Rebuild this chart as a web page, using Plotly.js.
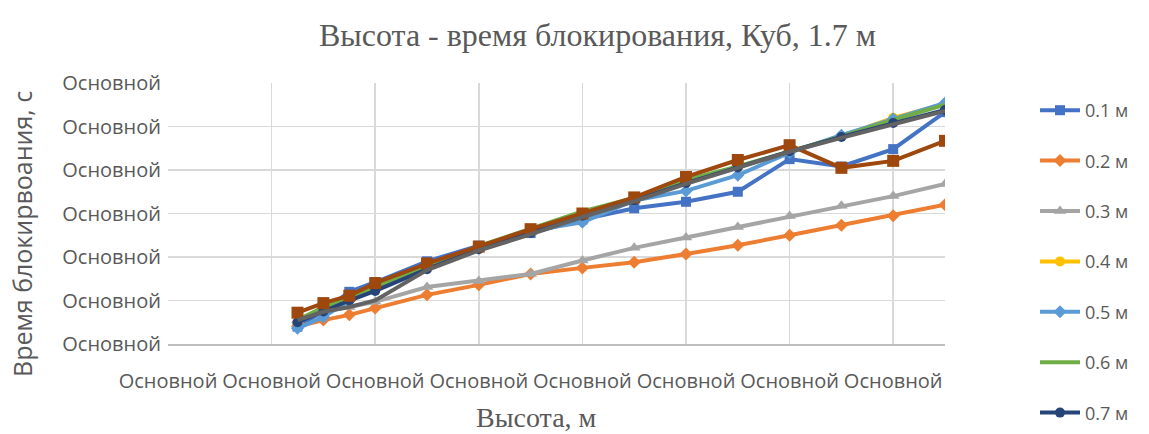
<!DOCTYPE html>
<html>
<head>
<meta charset="utf-8">
<script src="https://cdn.plot.ly/plotly-3.0.1.min.js"></script>
<style>html,body{margin:0;padding:0;background:#fff;}#chart{width:1149px;height:434px;}</style>
</head>
<body>
<div id="chart"></div>
<script>
// Heights (x) in axis units
const heights = [1.25, 1.5, 1.75, 2, 2.5, 3, 3.5, 4, 4.5, 5, 5.5, 6, 6.5, 7, 7.5];
const seriesNames = ["0.1 м", "0.2 м", "0.3 м", "0.4 м", "0.5 м", "0.6 м", "0.7 м", "0.8 м", "0.9 м"];
const s01 = [0.40, 0.75, 1.20, 1.42, 1.90, 2.26, 2.55, 2.86, 3.12, 3.27, 3.50, 4.25, 4.08, 4.48, 5.33];
const s02 = [0.40, 0.55, 0.67, 0.83, 1.13, 1.36, 1.61, 1.75, 1.88, 2.07, 2.27, 2.50, 2.73, 2.95, 3.20];
const s03 = [0.55, 0.74, 0.85, 0.97, 1.31, 1.45, 1.61, 1.92, 2.21, 2.45, 2.69, 2.94, 3.18, 3.40, 3.68];
const s04 = [0.50, 0.80, 1.02, 1.25, 1.77, 2.22, 2.62, 3.02, 3.34, 3.74, 4.07, 4.42, 4.78, 5.20, 5.52];
const s05 = [0.36, 0.62, 1.00, 1.30, 1.80, 2.20, 2.60, 2.80, 3.30, 3.52, 3.88, 4.40, 4.80, 5.17, 5.54];
const s06 = [0.55, 0.85, 1.05, 1.30, 1.80, 2.25, 2.66, 3.05, 3.36, 3.77, 4.08, 4.42, 4.77, 5.15, 5.50];
const s07 = [0.50, 0.75, 1.00, 1.22, 1.72, 2.18, 2.56, 2.95, 3.30, 3.70, 4.06, 4.43, 4.76, 5.08, 5.38];
const s08 = [0.72, 0.94, 1.11, 1.40, 1.85, 2.24, 2.64, 3.00, 3.37, 3.84, 4.23, 4.57, 4.05, 4.21, 4.67];
const s09 = [0.55, 0.74, 0.85, 1.00, 1.70, 2.15, 2.52, 2.92, 3.28, 3.68, 4.05, 4.42, 4.74, 5.06, 5.36];
const xTickVals = [0, 1, 2, 3, 4, 5, 6, 7];
const yTickVals = [0, 1, 2, 3, 4, 5, 6];
const tickLabel = "Основной";

const allSeries = [s01, s02, s03, s04, s05, s06, s07, s08, s09];
const colors = ["#4472C4", "#ED7D31", "#A5A5A5", "#FFC000", "#5B9BD5", "#70AD47", "#264478", "#9E480E", "#636363"];
const symbols = ["square", "diamond", "triangle-up", "circle", "diamond", "circle", "circle", "square", "circle"];
const msize = [10, 10, 11, 10, 10, 0, 10, 12, 0];

const traces = allSeries.map((ys, i) => ({
  type: "scatter",
  x: heights,
  y: ys,
  name: seriesNames[i],
  mode: msize[i] > 0 ? "lines+markers" : "lines",
  line: {color: colors[i], width: 4},
  marker: {symbol: symbols[i], size: msize[i] > 0 ? msize[i] : 6, color: colors[i]},
  legendgroup: "g" + i,
  showlegend: i < 7
}));

const tickFont = {family: "Open Sans, sans-serif", size: 20, color: "#595959"};

const layout = {
  width: 1149, height: 434,
  margin: {l: 168, r: 204, t: 83, b: 90},
  paper_bgcolor: "#fff", plot_bgcolor: "#fff",
  showlegend: true,
  title: {text: "Высота - время блокирования, Куб, 1.7 м", x: 0.52, xanchor: "center", y: 1 - 35/434, yanchor: "middle",
          font: {family: "Liberation Serif, serif", size: 32, color: "#595959"}},
  xaxis: {range: [0, 7.5], tickvals: xTickVals, ticktext: xTickVals.map(() => tickLabel),
          showgrid: true, gridcolor: "#d9d9d9", gridwidth: 1.5, zeroline: false,
          showline: true, linecolor: "#bfbfbf", linewidth: 1.5, ticks: "", tickfont: tickFont,
          ticklabelstandoff: 18, fixedrange: true},
  yaxis: {range: [0, 6], tickvals: yTickVals, ticktext: yTickVals.map(() => tickLabel),
          showgrid: true, gridcolor: "#d9d9d9", gridwidth: 1.5, zeroline: false,
          showline: false, ticks: "", tickfont: tickFont, ticklabelstandoff: 6, fixedrange: true},
  legend: {x: 1035/1149, xref: "container", xanchor: "left", y: 1 - 92/434, yref: "container",
           yanchor: "top", font: {family: "Open Sans, sans-serif", size: 18, color: "#595959"},
           tracegroupgap: 24, itemwidth: 40, maxheight: 420, bgcolor: "rgba(0,0,0,0)"},
  annotations: [
    {text: "Время блокирвоания, с", xref: "paper", yref: "paper", x: -146/777, y: (344-234)/261,
     xanchor: "center", yanchor: "middle", textangle: -90, showarrow: false,
     font: {family: "Open Sans, sans-serif", size: 25, color: "#595959"}},
    {text: "Высота, м", xref: "paper", yref: "paper", x: (536-168)/777, y: -(417-344)/261,
     xanchor: "center", yanchor: "middle", showarrow: false,
     font: {family: "Liberation Serif, serif", size: 28, color: "#595959"}}
  ]
};

Plotly.newPlot("chart", traces, layout, {displayModeBar: false, staticPlot: true});
</script>
</body>
</html>
